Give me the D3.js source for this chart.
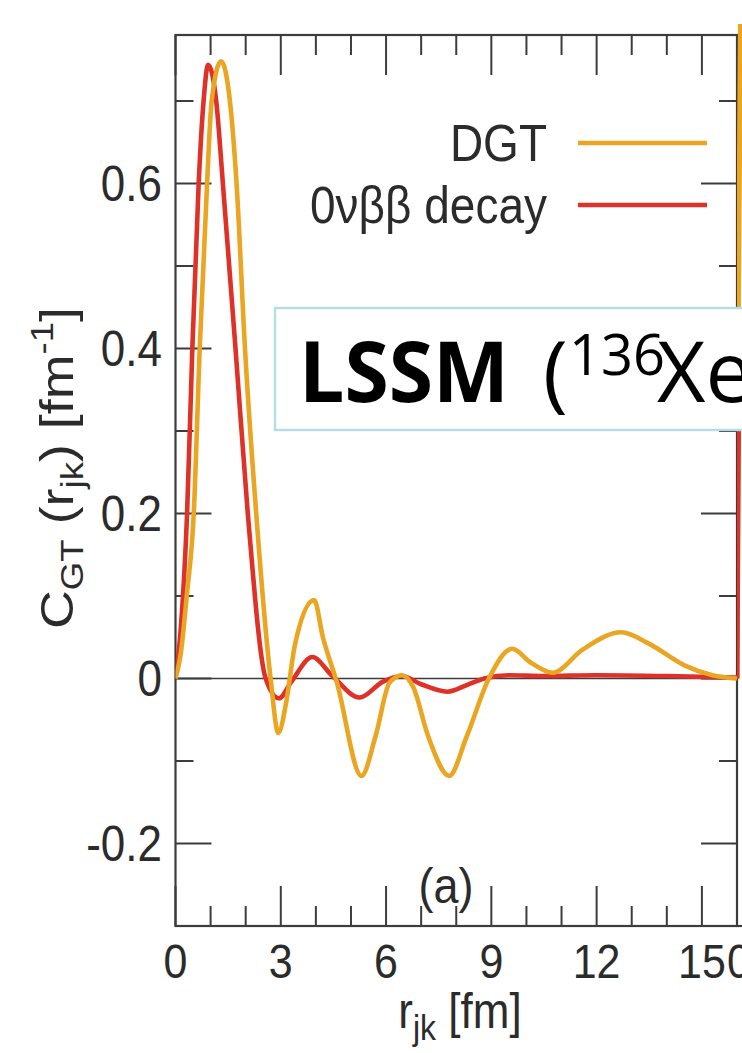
<!DOCTYPE html>
<html><head><meta charset="utf-8">
<script src="https://cdn.jsdelivr.net/npm/d3@7"></script>
<style>html,body{margin:0;padding:0;background:#fff;}svg{display:block;}</style>
</head><body>
<svg id="chart" width="742" height="1053"></svg>
<script>
// ---- data (panel a) ----
const dgtR = [0,0.15,0.32,0.52,0.69,0.9,1.03,1.3,1.55,1.74,1.98,2.3,2.71,2.93,3.15,3.4,3.95,4.2,4.6,5.3,5.7,6.1,6.45,6.77,7.2,7.8,8.3,8.93,9.6,10.1,10.75,11.6,12.7,13.5,14.5,15.3,16];
const dgtV = [0,0.03,0.1,0.2,0.4,0.6,0.7,0.748,0.7,0.6,0.4,0.2,0,-0.066,-0.03,0.04,0.095,0.05,-0.005,-0.118,-0.07,-0.005,0.004,-0.01,-0.07,-0.118,-0.07,0,0.036,0.02,0.007,0.035,0.056,0.042,0.016,0.004,0];
const dbdR = [0,0.15,0.33,0.48,0.66,0.8,0.93,1.16,1.35,1.53,1.71,2.06,2.57,2.95,3.3,3.9,4.45,5.25,5.9,6.45,7.0,7.75,8.3,8.8,9.5,10.5,12,14,16];
const dbdV = [0,0.06,0.2,0.4,0.6,0.7,0.744,0.7,0.6,0.5,0.4,0.2,0,-0.024,-0.004,0.026,0.004,-0.023,-0.004,0.003,-0.007,-0.016,-0.008,0,0.004,0.003,0.004,0.003,0.001];
// ---- partial next panel (b), visible only at the right edge ----
const bDgtR = [0,0.03,0.1];
const bDgtV = [0,0.4,0.8];
const bDbdR = [0,0.05,0.12];
const bDbdV = [0,0.35,0.45];
// ---- ticks & labels ----
const xMajor = [0,3,6,9,12,15];
const xMinor = d3.range(0,17,1);
const yMajor = [-0.2,0,0.2,0.4,0.6];
const yMinor = [-0.3,-0.2,-0.1,0,0.1,0.2,0.3,0.4,0.5,0.6,0.7];
const yLabels = ["-0.2","0","0.2","0.4","0.6"];
const seriesNames = ["DGT","0νββ decay"];
const colors = {dgt:"#eaa522", dbd:"#de3229"};

const svg = d3.select("#chart");
const L = 175.5, R = 737, T = 35, B = 926;
const x = d3.scaleLinear().domain([0,16]).range([L,R]);
const y = d3.scaleLinear().domain([-0.3,0.78]).range([B,T]);
const xb = d3.scaleLinear().domain([0,16]).range([R, R + (R-L)]);
const frameCol = "#3c3c3c", textCol = "#2b2b2b";
const font = "'Liberation Sans', Arial, Helvetica, sans-serif";
const SY = 1.12; // vertical stretch of the source figure's lettering

function stext(g, px, py, size, anchor){
  return g.append("text").attr("transform",`translate(${px},${py}) scale(1,${SY})`)
    .attr("text-anchor",anchor).attr("font-family",font).attr("font-size",size).attr("fill",textCol);
}

const defs = svg.append("defs");
defs.append("clipPath").attr("id","clipA").append("rect").attr("x",L).attr("y",T).attr("width",R-L).attr("height",B-T);
defs.append("clipPath").attr("id","clipB").append("rect").attr("x",R).attr("y",24).attr("width",20).attr("height",B-24);

// zero line
svg.append("line").attr("x1",L).attr("x2",R).attr("y1",y(0)).attr("y2",y(0)).attr("stroke",frameCol).attr("stroke-width",1.6);

// ticks
const tg = svg.append("g").attr("stroke",frameCol).attr("stroke-width",2);
xMinor.forEach(v=>{
  const len = xMajor.includes(v) ? 40 : 20;
  tg.append("line").attr("x1",x(v)).attr("x2",x(v)).attr("y1",B).attr("y2",B-len);
  tg.append("line").attr("x1",x(v)).attr("x2",x(v)).attr("y1",T).attr("y2",T+len);
});
yMinor.forEach(v=>{
  const len = yMajor.some(m=>Math.abs(m-v)<1e-9) ? 36 : 18;
  tg.append("line").attr("x1",L).attr("x2",L+len).attr("y1",y(v)).attr("y2",y(v));
  tg.append("line").attr("x1",R).attr("x2",R-len).attr("y1",y(v)).attr("y2",y(v));
});

// frame
svg.append("rect").attr("x",L).attr("y",T).attr("width",R-L).attr("height",B-T).attr("fill","none").attr("stroke",frameCol).attr("stroke-width",2.2);
svg.append("line").attr("x1",R).attr("x2",742).attr("y1",T).attr("y2",T).attr("stroke",frameCol).attr("stroke-width",2.2);
svg.append("line").attr("x1",R).attr("x2",742).attr("y1",B).attr("y2",B).attr("stroke",frameCol).attr("stroke-width",2.2);

// curves
const lineA = d3.line().x(d=>x(d[0])).y(d=>y(d[1])).curve(d3.curveMonotoneX);
const lineB = d3.line().x(d=>xb(d[0])).y(d=>y(d[1])).curve(d3.curveMonotoneX);
const gA = svg.append("g").attr("clip-path","url(#clipA)").attr("fill","none").attr("stroke-width",4.6).attr("stroke-linejoin","round");
gA.append("path").attr("d",lineA(dbdR.map((r,i)=>[r,dbdV[i]]))).attr("stroke",colors.dbd);
gA.append("path").attr("d",lineA(dgtR.map((r,i)=>[r,dgtV[i]]))).attr("stroke",colors.dgt);
const gB = svg.append("g").attr("clip-path","url(#clipB)").attr("fill","none").attr("stroke-width",5);
gB.append("path").attr("d",lineB(bDgtR.map((r,i)=>[r,bDgtV[i]]))).attr("stroke",colors.dgt);
gB.append("path").attr("d",lineB(bDbdR.map((r,i)=>[r,bDbdV[i]]))).attr("stroke",colors.dbd);

// tick labels
const tl = svg.append("g");
xMajor.forEach(v=>{ stext(tl, x(v), 978, 43, "middle").text(v); });
stext(tl, xb(0)+2, 978, 43, "middle").text("0");
yMajor.forEach((v,i)=>{ stext(tl, 162, y(v)+17, 44, "end").text(yLabels[i]); });

// legend
const legY = [143,205];
const legC = [colors.dgt, colors.dbd];
seriesNames.forEach((n,i)=>{
  stext(svg, 547, legY[i]+18, 46, "end").text(n);
  svg.append("line").attr("x1",578).attr("x2",707).attr("y1",legY[i]).attr("y2",legY[i]).attr("stroke",legC[i]).attr("stroke-width",4.6);
});

// (a)
stext(svg, 446, 903, 45, "middle").text("(a)");

// x title
const xt = stext(svg, 460, 1028, 44, "middle");
xt.append("tspan").text("r");
xt.append("tspan").attr("font-size",32).attr("dy",11).text("jk");
xt.append("tspan").attr("dy",-11).text(" [fm]");

// y title (stretched along its length like the source figure)
const yt = svg.append("text").attr("transform","translate(73,468) rotate(-90)").attr("text-anchor","middle")
  .attr("font-family",font).attr("font-size",47).attr("fill",textCol)
  .attr("textLength",322).attr("lengthAdjust","spacingAndGlyphs");
yt.append("tspan").text("C");
yt.append("tspan").attr("font-size",32).attr("dy",10).text("GT");
yt.append("tspan").attr("dy",-10).text(" (r");
yt.append("tspan").attr("font-size",32).attr("dy",10).text("jk");
yt.append("tspan").attr("dy",-10).text(") [fm");
yt.append("tspan").attr("font-size",32).attr("dy",-20).text("-1");
yt.append("tspan").attr("dy",20).text("]");

// LSSM overlay box
svg.append("rect").attr("x",275).attr("y",308).attr("width",520).attr("height",122).attr("fill","#fff").attr("stroke","#b4dde5").attr("stroke-width",2.4);
const lt = svg.append("text").attr("y",402).attr("font-family","'Open Sans','Noto Sans',sans-serif").attr("fill","#000");
lt.append("tspan").attr("x",299).attr("font-size",84).attr("font-weight","bold").attr("textLength",210).attr("lengthAdjust","spacingAndGlyphs").text("LSSM");
lt.append("tspan").attr("x",543).attr("font-size",84).text("(");
lt.append("tspan").attr("x",569).attr("dy",-27).attr("font-size",56).text("136");
lt.append("tspan").attr("x",657).attr("dy",27).attr("font-size",84).text("Xe");
</script>
</body></html>
